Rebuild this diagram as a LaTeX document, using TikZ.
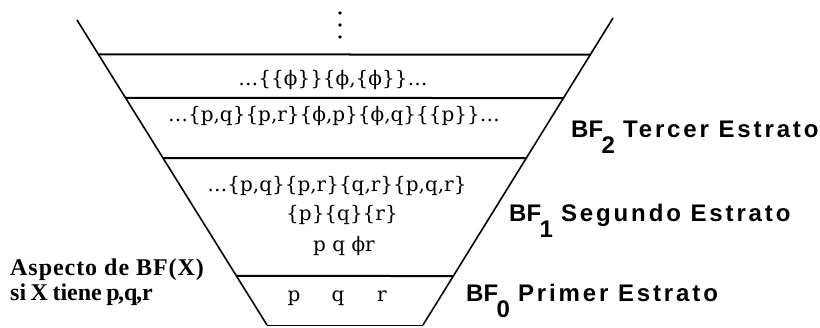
\documentclass[tikz,border=0pt]{standalone}
\usepackage{fontspec}
\setmainfont{Liberation Serif}
\newfontfamily\setfont{DejaVu Serif}
\newfontfamily\labfont{Liberation Sans}[LetterSpace=12]
\newfontfamily\labplain{Liberation Sans}
\usetikzlibrary{calc}
\newcommand{\bfsub}[1]{{\labplain\bfseries BF\kern-1.5pt\raisebox{-16pt}{#1}}\hspace{8pt}}
\begin{document}
\begin{tikzpicture}[x=1pt,y=-1pt,
  hline/.style={line width=2pt},
  edgeline/.style={line width=1.6pt},
  settext/.style={font=\setfont\fontsize{20}{22}\selectfont, inner sep=0pt, anchor=base},
  lab/.style={font=\labfont\bfseries\fontsize{24}{28}\selectfont, anchor=base west, inner sep=0pt},
  asp/.style={font=\bfseries\fontsize{24}{26}\selectfont, anchor=base west, inner sep=0pt}]
\useasboundingbox (0,0) rectangle (820,327);
% funnel
\coordinate (L0) at (77,20);
\coordinate (L1) at (267,325);
\coordinate (R0) at (613,18);
\coordinate (R1) at (423,325);
\draw[edgeline] (L0) -- (L1);
\draw[edgeline] (R0) -- (R1);
\coordinate (a1) at ($(L0)!0.1131!(L1)$);
\coordinate (a2) at ($(L0)!0.2557!(L1)$);
\coordinate (a3) at ($(L0)!0.4525!(L1)$);
\coordinate (a4) at ($(L0)!0.8393!(L1)$);
\coordinate (b1) at (590.5,54.5);
\coordinate (b2) at (564,98);
\coordinate (b3) at (527,158);
\coordinate (b4) at (453.5,276);
\draw[hline] (a1) -- (b1);
\draw[hline] (a2) -- (b2);
\draw[hline] (a3) -- (b3);
\draw[hline] (a4) -- (b4);
\draw[line width=1pt] (L1) -- (R1);
% vertical dots
\fill (340,13) circle (1.8);
\fill (340,25) circle (1.8);
\fill (340,37) circle (1.8);
% set texts
\node[settext] (r1) at (333,85) {…\{\{ϕ\}\}\{ϕ,\{ϕ\}\}…};
\node[settext] (r2) at (334,121) {…\{p,q\}\{p,r\}\{ϕ,p\}\{ϕ,q\}\{\{p\}\}…};
\node[settext] (r3a) at (337,191) {…\{p,q\}\{p,r\}\{q,r\}\{p,q,r\}};
\node[settext] (r3b) at (342,220) {\{p\}\{q\}\{r\}};
\node[settext] (r3c) at (344,251) {p q ϕr};
\node[settext] (p0) at (294,301) {p};
\node[settext] (q0) at (338,301) {q};
\node[settext] (s0) at (382,301) {r};
% labels
\node[lab] (bf2) at (571,137) {\bfsub{2}Tercer Estrato};
\node[lab] (bf1) at (509,221) {\bfsub{1}Segundo Estrato};
\node[lab] (bf0) at (466,301) {\bfsub{0}Primer Estrato};
\node[asp] (asp1) at (10,275) {\addfontfeature{LetterSpace=4}Aspecto de BF(X)};
\node[asp] (asp2) at (10,300) {\spaceskip=4.5pt si X tiene p\kern-1.5pt,q\kern-1.5pt,r};
\end{tikzpicture}
\end{document}
